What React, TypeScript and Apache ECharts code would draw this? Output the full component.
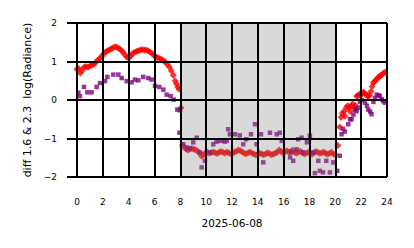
import React, { useEffect, useRef } from "react";
import * as echarts from "echarts";

// [hour, diff log(Radiance)] — 1.6 µm channel (red)
const redPoints: [number, number][] = [
  [0.0, 0.8], [0.13, 0.82], [0.26, 0.7], [0.4, 0.76], [0.55, 0.85], [0.7, 0.87], [0.85, 0.85],
  [1.0, 0.88], [1.15, 0.9], [1.3, 0.93], [1.45, 0.98], [1.6, 1.03], [1.75, 1.07], [1.9, 1.13],
  [2.05, 1.2], [2.2, 1.24], [2.35, 1.28], [2.5, 1.3], [2.65, 1.33], [2.8, 1.36], [2.95, 1.38],
  [3.1, 1.37], [3.25, 1.34], [3.4, 1.3], [3.55, 1.25], [3.7, 1.18], [3.85, 1.12], [4.0, 1.09],
  [4.15, 1.14], [4.3, 1.2], [4.45, 1.24], [4.6, 1.26], [4.75, 1.28], [4.9, 1.3], [5.05, 1.31],
  [5.2, 1.3], [5.35, 1.3], [5.5, 1.28], [5.65, 1.25], [5.8, 1.21], [5.95, 1.17], [6.1, 1.12],
  [6.25, 1.1], [6.4, 1.08], [6.55, 1.05], [6.7, 1.02], [6.85, 0.98], [7.0, 0.93], [7.15, 0.86],
  [7.3, 0.76], [7.45, 0.64], [7.6, 0.5], [7.7, 0.42], [7.8, 0.34], [7.9, 0.28], [8.05, -0.2],
  [8.15, -1.18], [8.3, -1.22], [8.45, -1.28], [8.6, -1.3], [8.75, -1.27], [8.9, -1.26], [9.05, -1.28],
  [9.2, -1.3], [9.35, -1.33], [9.5, -1.38], [9.65, -1.46], [9.8, -1.42], [9.95, -1.37], [10.1, -1.36],
  [10.25, -1.38], [10.4, -1.37], [10.55, -1.35], [10.7, -1.37], [10.85, -1.39], [11.0, -1.36],
  [11.15, -1.34], [11.3, -1.36], [11.45, -1.38], [11.6, -1.35], [11.75, -1.37], [11.9, -1.4],
  [12.05, -1.38], [12.2, -1.35], [12.35, -1.33], [12.5, -1.3], [12.65, -1.32], [12.8, -1.35],
  [12.95, -1.38], [13.1, -1.4], [13.25, -1.37], [13.4, -1.35], [13.55, -1.38], [13.7, -1.4],
  [13.85, -1.43], [14.0, -1.41], [14.15, -1.38], [14.3, -1.4], [14.45, -1.42], [14.6, -1.4],
  [14.75, -1.37], [14.9, -1.39], [15.05, -1.42], [15.2, -1.4], [15.35, -1.38], [15.5, -1.36],
  [15.65, -1.3], [15.8, -1.33], [15.95, -1.38], [16.1, -1.35], [16.25, -1.32], [16.4, -1.36],
  [16.55, -1.34], [16.7, -1.3], [16.85, -1.36], [17.0, -1.38], [17.15, -1.35], [17.3, -1.33],
  [17.45, -1.37], [17.6, -1.4], [17.75, -1.38], [17.9, -1.36], [18.05, -1.39], [18.2, -1.41],
  [18.35, -1.37], [18.5, -1.34], [18.65, -1.36], [18.8, -1.39], [18.95, -1.37], [19.1, -1.35],
  [19.25, -1.38], [19.4, -1.41], [19.55, -1.38], [19.7, -1.36], [19.85, -1.4], [20.0, -1.42],
  [20.2, -1.18], [20.35, -0.7], [20.45, -0.45], [20.55, -0.35], [20.65, -0.3], [20.75, -0.42],
  [20.85, -0.2], [20.95, -0.15], [21.05, -0.2], [21.15, -0.3], [21.25, -0.15], [21.35, -0.1],
  [21.45, -0.2], [21.55, -0.14], [21.65, 0.1], [21.75, 0.12], [21.85, 0.15], [21.95, 0.12],
  [22.05, 0.16], [22.15, 0.2], [22.25, 0.18], [22.35, 0.15], [22.45, 0.12], [22.55, 0.1],
  [22.65, 0.12], [22.75, 0.22], [22.85, 0.35], [22.95, 0.45], [23.05, 0.48], [23.15, 0.52],
  [23.25, 0.56], [23.35, 0.6], [23.45, 0.62], [23.55, 0.64], [23.65, 0.67], [23.75, 0.7],
  [23.85, 0.72],
];

// [hour, diff log(Radiance)] — 2.3 µm channel (purple)
const purplePoints: [number, number][] = [
  [0.1, 0.19], [0.23, 0.1], [0.54, 0.34], [0.8, 0.2], [1.13, 0.2], [1.52, 0.34], [1.78, 0.44],
  [2.17, 0.49], [2.35, 0.6], [2.81, 0.66], [3.2, 0.66], [3.46, 0.57], [3.85, 0.49], [4.23, 0.46],
  [4.49, 0.53], [4.75, 0.51], [5.13, 0.6], [5.52, 0.57], [5.78, 0.53], [6.04, 0.37], [6.37, 0.34],
  [6.68, 0.27], [6.94, 0.14], [7.25, 0.1], [7.5, 0.01], [7.77, -0.25], [7.97, -0.27],
  [7.93, -0.85], [8.23, -1.15], [8.49, -1.23], [8.75, -1.26], [9.0, -1.1], [9.27, -0.98],
  [9.52, -1.36], [9.65, -1.75], [9.9, -1.58], [10.3, -1.36], [10.55, -1.15], [10.8, -1.08],
  [10.94, -1.06], [11.2, -1.06], [11.45, -1.08], [11.59, -1.06], [11.7, -0.76], [11.84, -0.89],
  [12.23, -0.89], [12.6, -0.92], [12.87, -1.15], [13.1, -1.02], [13.47, -0.89], [13.78, -0.63],
  [13.9, -1.15], [14.24, -0.89], [14.42, -1.62], [14.94, -0.85], [15.46, -0.89], [15.7, -0.85],
  [15.85, -1.06], [16.5, -1.49], [16.6, -1.36], [16.74, -1.58], [17.0, -1.28], [17.13, -1.02],
  [17.39, -0.98], [17.5, -1.36], [17.8, -1.1], [18.03, -0.93], [18.29, -1.36], [18.42, -1.9],
  [18.68, -1.58], [18.8, -1.84], [19.05, -1.88], [19.3, -1.58], [19.58, -1.88], [19.84, -1.62],
  [20.15, -1.84], [20.35, -1.45], [20.48, -0.89], [20.6, -0.75], [20.74, -0.82], [21.0, -0.63],
  [21.13, -0.5], [21.26, -0.5], [21.4, -0.38], [21.52, -0.25], [21.65, -0.29], [21.77, -0.2],
  [21.9, -0.05], [22.05, 0.0], [22.3, -0.07], [22.45, -0.15], [22.55, -0.25], [22.7, -0.3],
  [22.8, -0.37], [22.95, -0.05], [23.06, 0.05], [23.2, 0.14], [23.35, 0.12], [23.45, 0.1],
  [23.6, 0.02], [23.7, -0.03], [23.84, -0.07],
];

const nightSpan: [number, number] = [8.1, 20.1];
const xLabel = "2025-06-08";
const yLabel = "diff 1.6 & 2.3  log(Radiance)";

const FONT = "DejaVu Sans";
const TICK_LEN = 10;
const LINE_W = 2;
const LINE_COLOR = "#000";

export default function App() {
  const ref = useRef<HTMLDivElement>(null);
  useEffect(() => {
    if (!ref.current) return;
    const chart = echarts.init(ref.current, undefined, { renderer: "svg" });
    const gridLines = {
      axisLine: { show: false },
      axisTick: { show: true, length: TICK_LEN, lineStyle: { color: LINE_COLOR, width: LINE_W } },
      splitLine: {
        show: true,
        showMinLine: true,
        showMaxLine: true,
        lineStyle: { color: LINE_COLOR, width: LINE_W },
      },
    };
    chart.setOption({
      animation: false,
      grid: { left: 77, right: 27, top: 23, bottom: 71, containLabel: false },
      xAxis: {
        type: "value",
        min: 0,
        max: 24,
        interval: 2,
        z: 10,
        name: xLabel,
        nameLocation: "middle",
        nameGap: 40,
        nameTextStyle: { fontSize: 10.5, color: "#000", fontFamily: FONT },
        ...gridLines,
        axisLabel: { fontSize: 9, color: "#000", margin: 20, fontFamily: FONT },
      },
      yAxis: {
        type: "value",
        min: -2,
        max: 2,
        interval: 1,
        z: 10,
        name: yLabel,
        nameLocation: "middle",
        nameGap: 43,
        nameTextStyle: { fontSize: 11, color: "#000", fontFamily: FONT },
        ...gridLines,
        axisLabel: {
          fontSize: 9,
          color: "#000",
          margin: 20,
          fontFamily: FONT,
          formatter: (v: number) => String(v).replace("-", "\u2212"),
        },
      },
      series: [
        {
          type: "scatter",
          data: redPoints,
          symbol: "diamond",
          symbolSize: 7,
          itemStyle: { color: "#ff0000" },
          z: 2,
        },
        {
          type: "scatter",
          data: purplePoints,
          symbol: "rect",
          symbolSize: 4.5,
          itemStyle: { color: "#800080" },
          z: 2,
        },
        {
          // night shading, drawn over the points (under the grid)
          type: "custom",
          z: 3,
          clip: false,
          silent: true,
          data: [[nightSpan[0], nightSpan[1]]],
          renderItem: (params: any, api: any) => {
            const cs = params.coordSys;
            const x0 = api.coord([api.value(0), 0])[0];
            const x1 = api.coord([api.value(1), 0])[0];
            return {
              type: "rect",
              shape: { x: x0, y: cs.y, width: x1 - x0, height: cs.height },
              style: { fill: "rgba(128,128,128,0.3)" },
            };
          },
        },
      ],
    });
    return () => chart.dispose();
  }, []);
  return (
    <div
      ref={ref}
      style={{ position: "absolute", left: 0, top: 0, width: 414, height: 248 }}
    />
  );
}
